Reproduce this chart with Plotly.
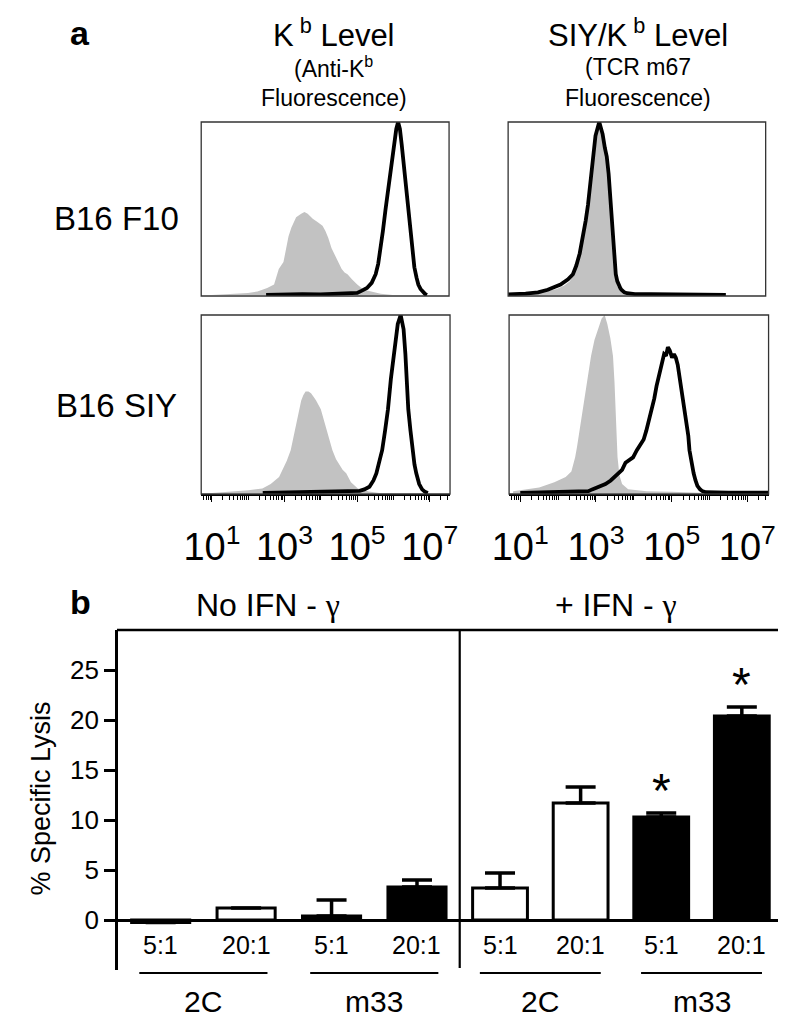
import plotly.graph_objects as go

# ---------------- data: panel a (flow histograms, x in log10 units, y = relative count) -------------
kb_f10_iso_logx = [1.0, 1.3, 1.64, 2.0, 2.26, 2.53, 2.72, 2.85, 2.98, 3.12, 3.2, 3.33, 3.47, 3.56, 3.65, 3.79,
                   3.93, 4.06, 4.14, 4.22, 4.31, 4.40, 4.5, 4.59, 4.67, 4.75, 4.88, 5.02, 5.2, 5.4, 5.67, 6.0]
kb_f10_iso_count = [0, 0.003, 0.01, 0.012, 0.02, 0.04, 0.06, 0.15, 0.19, 0.34, 0.39, 0.45, 0.47, 0.48, 0.47, 0.44,
                    0.42, 0.40, 0.37, 0.33, 0.27, 0.23, 0.18, 0.15, 0.13, 0.12, 0.09, 0.06, 0.03, 0.02, 0.007, 0.0]
kb_f10_stain_logx = [2.5, 3.0, 3.5, 4.0, 4.5, 4.8, 5.02, 5.15, 5.29, 5.42, 5.53, 5.6, 5.66, 5.73, 5.8, 5.87, 5.93,
                     5.99, 6.04, 6.1, 6.15, 6.2, 6.25, 6.3, 6.34, 6.4, 6.47, 6.53, 6.6, 6.66, 6.71, 6.77, 6.82, 6.9, 6.95]
kb_f10_stain_count = [0.0, 0.003, 0.004, 0.003, 0.006, 0.008, 0.012, 0.025, 0.04, 0.07, 0.12, 0.18, 0.26, 0.37, 0.49,
                      0.6, 0.68, 0.8, 0.88, 0.96, 1.0, 0.96, 0.87, 0.77, 0.68, 0.56, 0.43, 0.29, 0.16, 0.1, 0.06,
                      0.035, 0.02, 0.005, 0.0]

kb_siy_iso_logx = [1.0, 1.3, 1.64, 2.0, 2.39, 2.62, 2.85, 3.0, 3.06, 3.17, 3.28, 3.39, 3.46, 3.52, 3.58, 3.66, 3.73,
                   3.8, 3.87, 4.0, 4.08, 4.16, 4.24, 4.32, 4.42, 4.51, 4.6, 4.7, 4.83, 5.02, 5.32, 5.61]
kb_siy_iso_count = [0, 0.004, 0.01, 0.015, 0.025, 0.05, 0.09, 0.15, 0.18, 0.24, 0.35, 0.47, 0.52, 0.55, 0.57, 0.57,
                    0.56, 0.54, 0.52, 0.47, 0.41, 0.35, 0.29, 0.24, 0.19, 0.16, 0.13, 0.11, 0.06, 0.025, 0.008, 0.0]
kb_siy_stain_logx = [2.4, 3.0, 3.5, 4.0, 4.5, 4.9, 5.07, 5.2, 5.34, 5.45, 5.53, 5.64, 5.69, 5.77, 5.85, 5.93, 6.0,
                     6.04, 6.12, 6.2, 6.28, 6.33, 6.36, 6.41, 6.47, 6.52, 6.58, 6.63, 6.71, 6.79, 6.87, 6.95]
kb_siy_stain_count = [0.0, 0.003, 0.003, 0.004, 0.006, 0.008, 0.012, 0.02, 0.035, 0.07, 0.11, 0.2, 0.24, 0.35, 0.47,
                      0.64, 0.76, 0.82, 0.95, 1.0, 0.92, 0.78, 0.64, 0.47, 0.35, 0.24, 0.16, 0.11, 0.05, 0.02,
                      0.006, 0.0]

m67_f10_iso_logx = [0.9, 1.2, 1.5, 1.8, 2.0, 2.2, 2.35, 2.45, 2.55, 2.65, 2.73, 2.8, 2.87, 2.93, 2.99, 3.05, 3.12,
                    3.18, 3.25, 3.31, 3.37, 3.42, 3.47, 3.51, 3.56, 3.61, 3.68, 3.78, 3.95, 4.2]
m67_f10_iso_count = [0.0, 0.006, 0.01, 0.025, 0.035, 0.055, 0.08, 0.12, 0.18, 0.28, 0.38, 0.47, 0.6, 0.73, 0.85,
                     0.93, 1.0, 0.97, 0.9, 0.8, 0.66, 0.52, 0.37, 0.22, 0.1, 0.05, 0.025, 0.01, 0.003, 0.0]
m67_f10_stain_logx = [0.705, 1.0, 1.17, 1.5, 1.76, 2.1, 2.3, 2.43, 2.52, 2.61, 2.69, 2.77, 2.83, 2.87, 2.92, 2.95,
                      3.03, 3.13, 3.22, 3.28, 3.33, 3.38, 3.41, 3.44, 3.47, 3.51, 3.54, 3.57, 3.61, 3.64, 3.69,
                      3.72, 3.8, 3.87, 4.08, 4.5, 5.0, 5.5, 6.0, 6.3, 6.5]
m67_f10_stain_count = [0.003, 0.004, 0.008, 0.015, 0.03, 0.06, 0.09, 0.12, 0.17, 0.24, 0.33, 0.43, 0.52, 0.6, 0.7,
                       0.8, 0.92, 1.0, 0.93, 0.85, 0.8, 0.7, 0.6, 0.52, 0.43, 0.24, 0.17, 0.12, 0.08, 0.06, 0.04,
                       0.03, 0.015, 0.01, 0.005, 0.004, 0.004, 0.003, 0.004, 0.003, 0.0]

m67_siy_iso_logx = [0.81, 1.12, 1.5, 1.9, 2.2, 2.35, 2.45, 2.5, 2.58, 2.64, 2.74, 2.87, 2.96, 3.05, 3.15, 3.23, 3.3,
                    3.38, 3.45, 3.49, 3.51, 3.54, 3.57, 3.62, 3.69, 3.85, 4.34, 5.0, 5.37, 5.89]
m67_siy_iso_count = [0.01, 0.02, 0.03, 0.06, 0.09, 0.12, 0.2, 0.26, 0.37, 0.47, 0.6, 0.77, 0.86, 0.92, 0.98, 1.0,
                     0.95, 0.87, 0.77, 0.62, 0.49, 0.32, 0.2, 0.1, 0.05, 0.02, 0.01, 0.006, 0.004, 0.0]
m67_siy_stain_logx = [1.0, 1.5, 2.0, 2.4, 2.66, 2.8, 2.9, 3.1, 3.25, 3.39, 3.55, 3.69, 3.78, 3.85, 3.9, 3.98, 4.08,
                      4.17, 4.26, 4.33, 4.39, 4.47, 4.54, 4.6, 4.68, 4.75, 4.8, 4.85, 4.9, 4.95, 5.01, 5.06, 5.11,
                      5.16, 5.22, 5.29, 5.35, 5.4, 5.44, 5.47, 5.53, 5.58, 5.63, 5.68, 5.75, 5.81, 5.9, 6.01, 6.5,
                      7.0, 7.6]
m67_siy_stain_count = [0.0, 0.002, 0.003, 0.004, 0.006, 0.01, 0.02, 0.035, 0.05, 0.07, 0.1, 0.13, 0.17, 0.18, 0.19,
                       0.2, 0.24, 0.27, 0.3, 0.35, 0.4, 0.47, 0.53, 0.6, 0.67, 0.74, 0.78, 0.77, 0.82, 0.8, 0.76,
                       0.78, 0.76, 0.72, 0.64, 0.55, 0.47, 0.4, 0.32, 0.24, 0.16, 0.11, 0.07, 0.04, 0.02, 0.01,
                       0.004, 0.003, 0.002, 0.002, 0.002]

row_labels = ["B16 F10", "B16 SIY"]
col_titles = ["K<sup> b</sup> Level", "SIY/K<sup> b</sup> Level"]
col_subtitles = [["(Anti-K<sup>b</sup>", "Fluorescence)"], ["(TCR m67", "Fluorescence)"]]
labelled_decades = [1, 3, 5, 7]
unlabelled_decades = [0, 2, 4, 6]

# ---------------- data: panel b (lysis bars) ----------------
effectors = ["2C", "2C", "m33", "m33"]
ratios = ["5:1", "20:1", "5:1", "20:1"]
conditions = ["No IFN - ", "+ IFN - "]
lysis_no_ifn = [-0.25, 1.2, 0.4, 3.3]
err_no_ifn = [0, 0, 1.6, 0.7]
lysis_ifn = [3.2, 11.7, 10.3, 20.4]
err_ifn = [1.5, 1.6, 0.4, 0.9]
sig_ifn = [False, False, True, True]
y_ticks = [0, 5, 10, 15, 20, 25]

# ---------------- layout helpers ----------------
W, H = 786, 1032
FONT = "Liberation Sans, Arial, Helvetica, sans-serif"
GAMMA = '<span style="font-family:Liberation Serif, DejaVu Serif, serif">γ</span>'


def fx(p):
    return p / W


def fy(p):
    return 1 - p / H


def label(text, x, y, size, xanchor="center", **kw):
    d = dict(text=text, x=x, y=y, xref=kw.pop("xref", "paper"), yref=kw.pop("yref", "paper"),
             showarrow=False, xanchor=xanchor, yanchor=kw.pop("yanchor", "middle"),
             font=dict(size=size, family=FONT, color="black"))
    d.update(kw)
    return d


XR = [0.705, 7.56]
fig = go.Figure()
shapes = []
annotations = []

hist_panels = [
    ("x", "y", (182, 438), (114, 288), kb_f10_iso_logx, kb_f10_iso_count, kb_f10_stain_logx, kb_f10_stain_count, False),
    ("x2", "y2", (182, 439), (307, 486), kb_siy_iso_logx, kb_siy_iso_count, kb_siy_stain_logx, kb_siy_stain_count, True),
    ("x3", "y3", (499, 765), (114, 288), m67_f10_iso_logx, m67_f10_iso_count, m67_f10_stain_logx, m67_f10_stain_count, False),
    ("x4", "y4", (500, 768), (307, 486), m67_siy_iso_logx, m67_siy_iso_count, m67_siy_stain_logx, m67_siy_stain_count, True),
]

minor_vals = ([k * 10 ** d for d in range(0, 8) for k in range(2, 10)]
              + [10 ** d for d in unlabelled_decades])

for xa, ya, (px0, px1), (py0, py1), ilx, ic, slx, sc, bottom in hist_panels:
    fig.add_trace(go.Scatter(x=[10 ** v for v in ilx], y=ic, mode="lines", fill="tozeroy",
                             fillcolor="#c2c2c2", line=dict(width=0, color="#c2c2c2"),
                             xaxis=xa, yaxis=ya, hoverinfo="skip", showlegend=False))
    fig.add_trace(go.Scatter(x=[10 ** v for v in slx], y=sc, mode="lines",
                             line=dict(width=3.8, color="black"),
                             xaxis=xa, yaxis=ya, hoverinfo="skip", showlegend=False))
    xkey = "xaxis" + xa[1:]
    ykey = "yaxis" + ya[1:]
    xdict = dict(domain=[fx(px0), fx(px1)], anchor=ya, type="log", range=XR, showgrid=False,
                 zeroline=False, fixedrange=True)
    if bottom:
        xdict.update(showline=True, linecolor="black", linewidth=2, ticks="outside", ticklen=6,
                     tickwidth=1.4, tickcolor="black",
                     tickvals=[10 ** d for d in labelled_decades],
                     ticktext=[f"10<sup>{d}</sup>" for d in labelled_decades],
                     tickfont=dict(size=38, color="black", family=FONT), ticklabelstandoff=12,
                     minor=dict(ticks="outside", ticklen=4, tickwidth=1, tickcolor="black",
                                tickvals=minor_vals))
    else:
        xdict.update(showline=False, ticks="", showticklabels=False)
    fig.layout[xkey] = xdict
    fig.layout[ykey] = dict(domain=[fy(py1), fy(py0)], anchor=xa, range=[-0.006, 1.0], showgrid=False,
                            zeroline=False, showticklabels=False, ticks="", showline=False, fixedrange=True)
    shapes.append(dict(type="rect", xref=xa + " domain", yref=ya + " domain", x0=0, x1=1, y0=0, y1=1,
                       line=dict(color="#333333", width=1.3)))

# ---------------- panel a text ----------------
annotations.append(label("<b>a</b>", fx(57), fy(25), 34))
for cx, title, subs in zip([319, 633], col_titles, col_subtitles):
    annotations.append(label(title, fx(cx), fy(25), 31))
    for sy, s in zip([59, 90], subs):
        annotations.append(label(s, fx(cx), fy(sy), 23))
for ry, lab in zip([210, 397], row_labels):
    annotations.append(label(lab, fx(94), fy(ry), 33))

# ---------------- panel b ----------------
cats = [f"{e} {r}" for e, r in zip(effectors, ratios)]
fills = ["white" if e == "2C" else "black" for e in effectors]

BAR_TOP, BAR_BOT = 622, 962
Y_RANGE = [-5, 29]
RATIO_Y, LINE_Y, GROUP_Y, HEAD_Y = 937, 965, 993, 597

bar_panels = [("x5", "y5", (96, 449), lysis_no_ifn, err_no_ifn, [False] * 4),
              ("x6", "y6", (449, 782), lysis_ifn, err_ifn, sig_ifn)]
for i, (xa, ya, (px0, px1), vals, errs, sig) in enumerate(bar_panels):
    fig.add_trace(go.Bar(x=cats, y=vals, width=0.68, xaxis=xa, yaxis=ya, showlegend=False,
                         marker=dict(color=fills, line=dict(color="black", width=3)),
                         error_y=dict(type="data", symmetric=False, array=errs, arrayminus=[0] * 4,
                                      color="black", thickness=3.5, width=15),
                         hoverinfo="skip"))
    fig.layout["xaxis" + xa[1:]] = dict(domain=[fx(px0), fx(px1)], anchor=ya, type="category",
                                       categoryarray=cats, range=[-0.5, 3.5], showticklabels=False,
                                       ticks="", showline=False, showgrid=False, zeroline=False,
                                       fixedrange=True)
    ydict = dict(domain=[fy(BAR_BOT), fy(BAR_TOP)], anchor=xa, range=Y_RANGE, showgrid=False,
                 zeroline=True, zerolinecolor="black", zerolinewidth=2.5, fixedrange=True)
    if i == 0:
        ydict.update(showline=True, linecolor="black", linewidth=2.5, ticks="outside", ticklen=11,
                     tickwidth=2.5, tickcolor="black", tickvals=y_ticks,
                     tickfont=dict(size=26, family=FONT, color="black"))
    else:
        ydict.update(showline=False, showticklabels=False, ticks="")
    fig.layout["yaxis" + ya[1:]] = ydict

    # ratio labels, group underlines, group labels
    for c, r in zip(cats, ratios):
        annotations.append(label(r, c, fy(RATIO_Y), 25, xref=xa))
    groups = []
    for j, e in enumerate(effectors):
        if not groups or groups[-1][0] != e:
            groups.append([e, j, j])
        else:
            groups[-1][2] = j
    for e, j0, j1 in groups:
        shapes.append(dict(type="line", xref=xa, yref="paper", x0=j0 - 0.25, x1=j1 + 0.25,
                           y0=fy(LINE_Y), y1=fy(LINE_Y), line=dict(color="black", width=2)))
        annotations.append(label(e, (j0 + j1) / 2, fy(GROUP_Y), 30, xref=xa))
    for c, v, er, s in zip(cats, vals, errs, sig):
        if s:
            annotations.append(label("*", c, v + er + 2.3, 48, xref=xa, yref=ya))

# frame of panel b
shapes.append(dict(type="line", xref="paper", yref="paper", x0=fx(95), x1=fx(783), y0=fy(BAR_TOP),
                   y1=fy(BAR_TOP), line=dict(color="black", width=2.5)))
shapes.append(dict(type="line", xref="paper", yref="paper", x0=fx(449), x1=fx(449), y0=fy(BAR_TOP),
                   y1=fy(BAR_BOT - 2), line=dict(color="black", width=2.2)))
shapes.append(dict(type="line", xref="paper", yref="paper", x0=fx(782), x1=fx(782), y0=fy(BAR_TOP),
                   y1=fy(BAR_BOT - 4), line=dict(color="black", width=2.2)))

annotations.append(label("<b>b</b>", fx(57), fy(HEAD_Y - 3), 34))
annotations.append(label(conditions[0] + GAMMA, fx(175), fy(HEAD_Y), 32, xanchor="left"))
annotations.append(label(conditions[1] + GAMMA, fx(610), fy(HEAD_Y), 32))
annotations.append(label("% Specific Lysis", fx(17), fy(BAR_TOP + 168), 27, textangle=-90))

fig.update_layout(width=W, height=H, margin=dict(l=0, r=0, t=0, b=0), paper_bgcolor="white",
                  plot_bgcolor="rgba(0,0,0,0)", shapes=shapes, annotations=annotations,
                  font=dict(family=FONT, color="black"), bargap=0.3)

fig.write_html("out.html")
